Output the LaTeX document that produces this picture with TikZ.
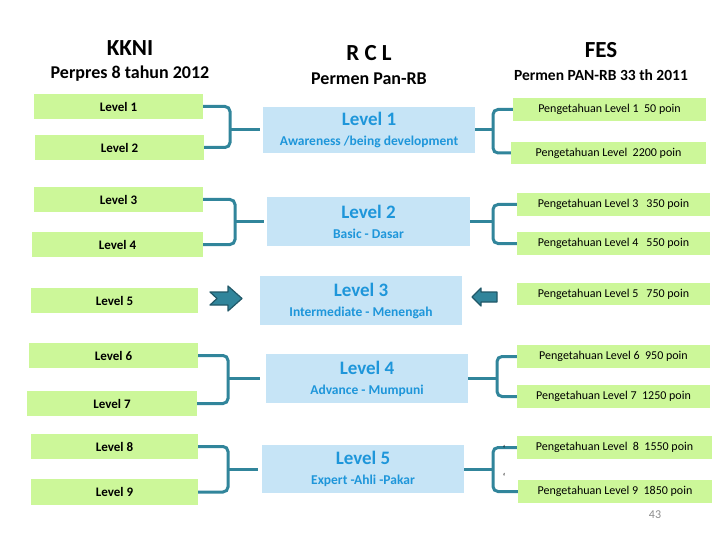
\documentclass[tikz,border=0pt]{standalone}
\usepackage{fontspec}
\setmainfont{Carlito}
\usetikzlibrary{positioning}
\definecolor{kkgreen}{RGB}{204,247,153}
\definecolor{rclblue}{RGB}{198,228,246}
\definecolor{rcltext}{RGB}{30,150,218}
\definecolor{braceteal}{RGB}{49,133,155}
\definecolor{arrowedge}{RGB}{33,88,104}
\definecolor{pagegray}{RGB}{140,140,140}

\begin{document}
\begin{tikzpicture}[x=1pt,y=-1pt,node distance=26pt,on grid,
  kkni/.style={fill=kkgreen,minimum width=169pt,minimum height=25pt,inner sep=0pt,font=\bfseries\fontsize{13}{15}\selectfont},
  rcl/.style={fill=rclblue,text=rcltext,minimum width=203pt,minimum height=49pt,inner sep=0pt,align=center,font=\bfseries\fontsize{19}{20}\selectfont},
  fes/.style={fill=kkgreen,minimum width=193pt,minimum height=23pt,inner sep=0pt,font=\fontsize{12}{14}\selectfont},
  title/.style={font=\bfseries\fontsize{23}{26}\selectfont},
  subtitle/.style={font=\bfseries\fontsize{18}{20}\selectfont},
  brace/.style={draw=braceteal,line width=3pt,rounded corners=5pt},
  blockarrow/.style={fill=braceteal,draw=arrowedge,line width=1.2pt,line join=round}]
\fill[white] (0,0) rectangle (720,540);
\useasboundingbox (0,0) rectangle (720,540);

% column headers
\node[title] (kkni) at (130,48) {KKNI};
\node[subtitle] (kknisub) [below=of kkni] {Perpres 8 tahun 2012};
\node[title] (rcl) at (369,53) {R C L};
\node[subtitle] (rclsub) [below=of rcl] {Permen Pan-RB};
\node[title] (fes) at (601,50) {FES};
\node[subtitle,font=\bfseries\fontsize{15.5}{18}\selectfont] (fessub) [below=25pt of fes] {Permen PAN-RB 33 th 2011};

% KKNI levels
\node[kkni] (L1) at (118.5,106.5) {Level 1};
\node[kkni] (L2) at (119.5,147.5) {Level 2};
\node[kkni] (L3) at (118.5,199.5) {Level 3};
\node[kkni,minimum width=171pt] (L4) at (117.5,244.5) {Level 4};
\node[kkni,minimum width=167pt] (L5) at (114.5,300.5) {Level 5};
\node[kkni] (L6) at (113.5,355.5) {Level 6};
\node[kkni,minimum width=170pt] (L7) at (112,403.5) {Level 7};
\node[kkni,minimum width=167pt] (L8) at (114.5,446.5) {Level 8};
\node[kkni,minimum width=167pt,minimum height=26pt] (L9) at (114.5,492) {Level 9};

% RCL levels
\node[rcl,minimum width=212pt,minimum height=46pt] (M1) at (369,130) {Level 1\\{\fontsize{13.5}{15}\selectfont Awareness /being development}};
\node[rcl] (M2) at (368.5,221.5) {Level 2\\{\fontsize{13.5}{15}\selectfont Basic - Dasar}};
\node[rcl,minimum width=202pt] (M3) at (361,300.5) {Level 3\\{\fontsize{13.5}{15}\selectfont Intermediate - Menengah}};
\node[rcl,minimum width=202pt] (M4) at (367,378.5) {Level 4\\{\fontsize{13.5}{15}\selectfont Advance - Mumpuni}};
\node[rcl,minimum width=202pt,minimum height=48pt] (M5) at (363,469) {Level 5\\{\fontsize{13.5}{15}\selectfont Expert -Ahli -Pakar}};

% FES levels
\node[fes] (F1) at (609.5,109.5) {Pengetahuan Level 1\ \ 50 poin};
\node[fes,minimum width=195pt,minimum height=22pt] (F2) at (608.5,153) {Pengetahuan Level\ \ 2200 poin};
\node[fes] (F3) at (613.5,204.5) {Pengetahuan Level 3\ \ \ 350 poin};
\node[fes] (F4) at (613.5,243.5) {Pengetahuan Level 4\ \ \ 550 poin};
\node[fes,minimum height=22pt] (F5) at (613.5,294) {Pengetahuan Level 5\ \ \ 750 poin};
\node[fes] (F6) at (613.5,356.5) {Pengetahuan Level 6\ \ 950 poin};
\node[fes] (F7) at (613.5,396.5) {Pengetahuan Level 7\ \ 1250 poin};
\node[fes,minimum width=195pt] (F8) at (614.5,447.5) {Pengetahuan Level\ \ 8\ \ 1550 poin};
\node[fes,minimum width=194pt] (F9) at (615,491.5) {Pengetahuan Level 9\ \ 1850 poin};

% braces KKNI -> RCL
\coordinate (kb1) at (230,130);
\coordinate (kb2) at (235,221.5);
\coordinate (kb3) at (228,378.5);
\coordinate (kb4) at (228,469);
\draw[brace] (L1.east) -| (kb1) |- (L2.east);
\draw[brace] (L3.east) -| (kb2) |- (L4.east);
\draw[brace] (L6.east) -| (kb3) |- (L7.east);
\draw[brace] (L8.east) -| (kb4) |- (L9.east);
\draw[brace,shorten >=3pt] (kb1) -- (M1.west);
\draw[brace,shorten >=3pt] (kb2) -- (M2.west);
\draw[brace,shorten >=6pt] (kb3) -- (M4.west);
\draw[brace,shorten >=4pt] (kb4) -- (M5.west);

% braces RCL -> FES
\coordinate (fb1) at (493,130);
\coordinate (fb2) at (493,221.5);
\coordinate (fb3) at (497,378.5);
\coordinate (fb4) at (493,469);
\draw[brace] (M1.east) -- (fb1);
\draw[brace] (M2.east) -- (fb2);
\draw[brace] (M4.east) -- (fb3);
\draw[brace] (M5.east) -- (fb4);
\draw[brace] (F1.west) -| (fb1) |- (F2.west);
\draw[brace] (F3.west) -| (fb2) |- (F4.west);
\draw[brace] (F6.west) -| (fb3) |- (F7.west);
\draw[brace] (F8.west) -| (fb4) |- (F9.west);

% arrows towards level 3
\draw[blockarrow] (210,292) -- (228,292) -- (228,286) -- (242,298.5) -- (228,311) -- (228,305) -- (210,305) -- (217,298.5) -- cycle;
\draw[blockarrow] (472,297) -- (481,288) -- (481,292) -- (497,292) -- (497,302) -- (481,302) -- (481,306) -- cycle;

\node[font=\fontsize{10}{10}\selectfont] (tk1) at (504,449) {`};
\node[font=\fontsize{10}{10}\selectfont] (tk2) at (504,477) {`};
\node[text=pagegray,font=\fontsize{12}{14}\selectfont] (page) at (655,515) {43};
\end{tikzpicture}
\end{document}
